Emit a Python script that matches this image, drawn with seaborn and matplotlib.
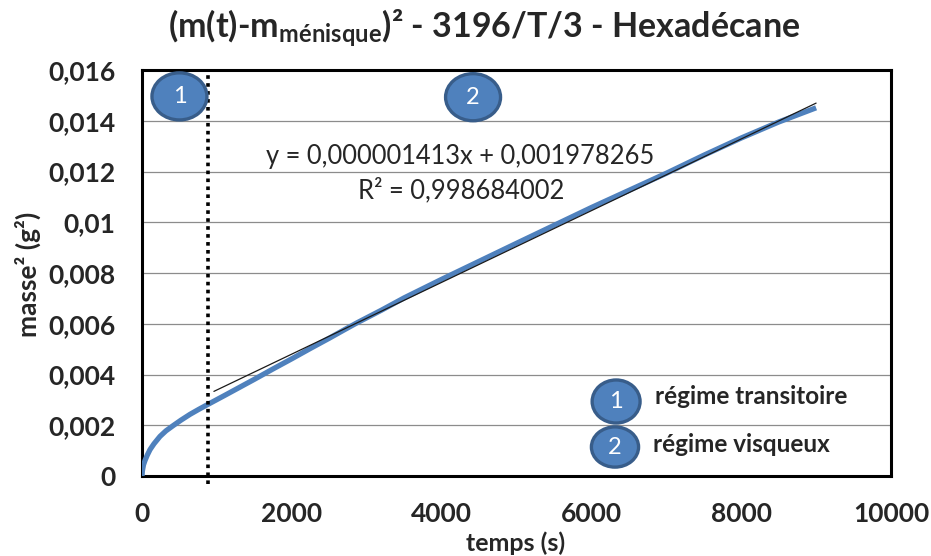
import matplotlib
matplotlib.use("Agg")
import matplotlib.pyplot as plt
from matplotlib.patches import Ellipse
import numpy as np
import pandas as pd
import seaborn as sns

# Measured capillary uptake: time (s) and squared mass gain (g^2)
temps = [0, 5, 20, 40, 70, 107, 160, 240, 320, 418, 520, 641, 760, 885,
         1100, 1300, 1500, 1750, 2000, 2250, 2500, 2700, 2866, 3200, 3500,
         4000, 5000, 6000, 7000, 7500, 8000, 8500, 9000]
masse2 = [0.0, 0.00020, 0.00044, 0.00061, 0.00082, 0.00104, 0.00127, 0.00156,
          0.00178, 0.00199, 0.00220, 0.00243, 0.00263, 0.00283,
          0.00317, 0.00349, 0.00381, 0.00422, 0.00462, 0.00503, 0.00543,
          0.00576, 0.00603, 0.00654, 0.00702,
          0.00775, 0.00917, 0.01058, 0.01193, 0.01264, 0.01332, 0.01395, 0.01451]

# Linear fit over the viscous regime
pente = 0.000001413
ordonnee = 0.001978265
r2 = 0.998684002
fit_range = [960, 9000]

# Boundary between the two regimes
t_limite = 880

y_ticks = [0, 0.002, 0.004, 0.006, 0.008, 0.010, 0.012, 0.014, 0.016]
y_labels = ["0", "0,002", "0,004", "0,006", "0,008", "0,01", "0,012", "0,014", "0,016"]
x_ticks = [0, 2000, 4000, 6000, 8000, 10000]
x_labels = ["0", "2000", "4000", "6000", "8000", "10000"]

regimes = ["régime transitoire", "régime visqueux"]

sns.set_style("white")
plt.rcParams["font.family"] = ["Lato", "DejaVu Sans"]
plt.rcParams["mathtext.fontset"] = "custom"
plt.rcParams["mathtext.rm"] = "Lato:bold"
plt.rcParams["mathtext.bf"] = "Lato:bold"

W, H = 931, 556
fig = plt.figure(figsize=(W / 100, H / 100), dpi=100)
x0, x1, y0, y1 = 142, 891, 70, 476
ax = fig.add_axes([x0 / W, 1 - y1 / H, (x1 - x0) / W, (y1 - y0) / H])

df = pd.DataFrame({"temps": temps, "masse2": masse2})
fit_x = np.array(fit_range, dtype=float)
fit_df = pd.DataFrame({"temps": fit_x, "masse2": pente * fit_x + ordonnee})

ax.set_xlim(0, 10000)
ax.set_ylim(0, 0.016)
ax.set_yticks(y_ticks)
ax.set_yticklabels(y_labels)
ax.set_xticks(x_ticks)
ax.set_xticklabels(x_labels)
ax.yaxis.grid(True, color="#8c8c8c", linewidth=0.9)
ax.xaxis.grid(False)
ax.set_axisbelow(True)

sns.lineplot(data=df, x="temps", y="masse2", ax=ax, color="#4f81bd",
             linewidth=3.8, solid_capstyle="butt", zorder=3)
sns.lineplot(data=fit_df, x="temps", y="masse2", ax=ax, color="#1a1a1a",
             linewidth=0.9, zorder=4)

ax.plot([t_limite, t_limite], [-0.0003, 0.016], color="black",
        linewidth=2.6, linestyle=(0, (1, 1.2)), clip_on=False, zorder=5)

for s in ax.spines.values():
    s.set_linewidth(2.2)
    s.set_color("black")

ax.tick_params(axis="both", length=0, labelsize=19, pad=19)
for lab in ax.get_xticklabels() + ax.get_yticklabels():
    lab.set_fontweight("bold")

ax.set_xlabel("temps (s)", fontsize=18, fontweight="bold")
ax.set_ylabel("masse² (g²)", fontsize=19, fontweight="bold")
ax.xaxis.set_label_coords(0.4987, -0.165)
ax.xaxis.label.set_va("center")
ax.yaxis.set_label_coords(-0.152, 0.4975)
ax.yaxis.label.set_va("center")

fig.text(0.52, 0.949, r"(m(t)-m$_{\mathrm{ménisque}}$)² - 3196/T/3 - Hexadécane",
         ha="center", va="center", fontsize=24.5, fontweight="bold")

ax.text(0.4246, 0.786, "y = 0,000001413x + 0,001978265", transform=ax.transAxes,
        ha="center", va="center", fontsize=18.4)
ax.text(0.4266, 0.704, "R² = 0,998684002", transform=ax.transAxes,
        ha="center", va="center", fontsize=18.4)


def badge(cx, cy, w, h, num):
    e = Ellipse((cx, cy), w, h, transform=ax.transAxes, facecolor="#4f81bd",
                edgecolor="#385d8a", linewidth=2.4, zorder=6, clip_on=False)
    ax.add_patch(e)
    ax.text(cx, cy, num, transform=ax.transAxes, ha="center", va="center",
            color="white", fontsize=17, zorder=7)


badge(0.050, 0.935, 0.0734, 0.116, "1")
badge(0.442, 0.933, 0.0734, 0.116, "2")
badge(0.633, 0.1835, 0.064, 0.106, "1")
badge(0.6315, 0.0714, 0.063, 0.099, "2")

ax.text(0.685, 0.1946, regimes[0], transform=ax.transAxes, ha="left",
        va="center", fontsize=17.5, fontweight="bold")
ax.text(0.682, 0.0764, regimes[1], transform=ax.transAxes, ha="left",
        va="center", fontsize=17.5, fontweight="bold")

fig.savefig("out.png", dpi=100)
